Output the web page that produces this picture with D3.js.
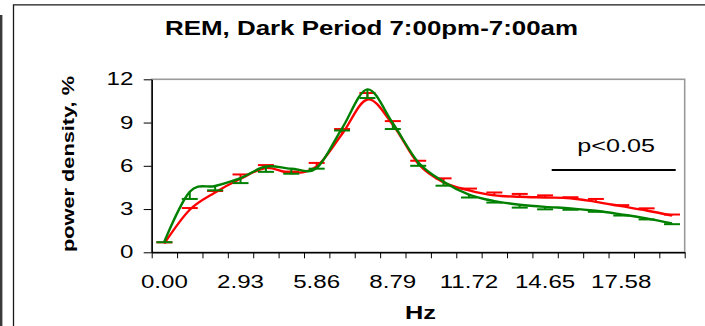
<!DOCTYPE html>
<html>
<head>
<meta charset="utf-8">
<script src="https://cdn.jsdelivr.net/npm/d3@7"></script>
<style>
  html, body { margin: 0; padding: 0; background: #fff; }
  svg { display: block; }
  text { font-family: "Liberation Sans", Arial, sans-serif; fill: #000; }
</style>
</head>
<body>
<svg id="chart" width="705" height="326"></svg>
<script>
// ---------------- data ----------------
const categories = ["0.00","0.98","1.95","2.93","3.91","4.88","5.86","6.84","7.81","8.79","9.77",
  "10.74","11.72","12.70","13.67","14.65","15.63","16.60","17.58","18.55","19.53"];
const shownLabels = ["0.00","2.93","5.86","8.79","11.72","14.65","17.58"];
const yTicks = [0, 3, 6, 9, 12];

const redMean   = [0.62, 2.95, 4.15, 5.10, 5.85, 5.50, 5.95, 8.20, 10.60, 8.85, 6.15, 4.85, 4.30, 3.95, 3.85, 3.80, 3.75, 3.50, 3.20, 2.90, 2.55];
const redErr    = [0.07, 0.12, 0.10, 0.30, 0.20, 0.10, 0.25, 0.35, 0.45, 0.25, 0.20, 0.28, 0.12, 0.20, 0.20, 0.15, 0.07, 0.20, 0.07, 0.15, 0.07];
const greenMean = [0.75, 4.20, 4.60, 5.15, 5.95, 5.80, 5.85, 8.60, 11.30, 8.95, 6.25, 4.90, 4.00, 3.55, 3.30, 3.15, 3.05, 2.88, 2.63, 2.35, 2.00];
const greenErr  = [0.05, 0.50, 0.30, 0.35, 0.37, 0.35, 0.05, 0.15, 0.60, 0.40, 0.25, 0.28, 0.20, 0.10, 0.20, 0.17, 0.10, 0.07, 0.08, 0.07, 0.05];

const titleText = "REM, Dark Period 7:00pm-7:00am";
const xTitle = "Hz";
const yTitle = "power density, %";
const noteText = "p<0.05";

// ---------------- layout ----------------
const svg = d3.select("#chart");
const L = 151.7, R = 684.7, T = 79.3, B = 252.3;
const SX = 1.37; // horizontal text stretch of reference

const x = d3.scaleBand().domain(categories).range([L, R]).paddingInner(0).paddingOuter(0);
const xEdge = d3.scaleLinear().domain([0, categories.length]).range([L, R]);
const y = d3.scaleLinear().domain([0, 12]).range([B, T]);
const cx = c => x(c) + x.bandwidth() / 2;

// outer frame
svg.append("rect").attr("x", 0).attr("y", 15).attr("width", 2.4).attr("height", 326).attr("fill", "#3a3a3a");
svg.append("path").attr("d", "M13.5,326 V4.8 H705").attr("fill", "none").attr("stroke", "#1a1a1a").attr("stroke-width", 1.3);

// plot area border (gray)
svg.append("rect").attr("x", L).attr("y", T).attr("width", R - L).attr("height", B - T)
  .attr("fill", "none").attr("stroke", "#9a9a9a").attr("stroke-width", 1.6);

// x tick marks
const xTickAxis = d3.axisBottom(xEdge).tickValues(d3.range(0, categories.length + 1)).tickFormat("")
  .tickSizeInner(6).tickSizeOuter(0);
const gxt = svg.append("g").attr("transform", `translate(0,${B})`).call(xTickAxis);
gxt.select(".domain").attr("stroke", "#000").attr("stroke-width", 1.5);
gxt.selectAll(".tick line").attr("stroke", "#000").attr("stroke-width", 1);

// x labels
const xLabAxis = d3.axisBottom(x).tickValues(shownLabels).tickSize(0);
const gxl = svg.append("g").attr("transform", `translate(0,${B})`).call(xLabAxis);
gxl.select(".domain").remove();
gxl.selectAll(".tick text").attr("y", 23.2).attr("dy", "0.71em")
  .style("font-size", "17.6px").attr("transform", `scale(${SX},1)`);

// y axis
const yAxis = d3.axisLeft(y).tickValues(yTicks).tickSizeInner(8).tickSizeOuter(0);
const gy = svg.append("g").attr("transform", `translate(${L},0)`).call(yAxis);
gy.select(".domain").attr("stroke", "#000").attr("stroke-width", 1.5);
gy.selectAll(".tick line").attr("stroke", "#000").attr("stroke-width", 1);
gy.selectAll(".tick text").attr("x", 0)
  .style("font-size", "17.6px").attr("transform", `translate(-18.4,0) scale(${SX},1)`);

// series
function drawSeries(mean, err, dir, color) {
  const pts = categories.map((c, i) => [cx(c), y(mean[i])]);
  const line = d3.line().curve(d3.curveCatmullRom.alpha(0));
  svg.append("path").attr("d", line(pts)).attr("fill", "none")
    .attr("stroke", color).attr("stroke-width", 2.4).attr("stroke-linejoin", "round");
  const g = svg.append("g").attr("stroke", color).attr("stroke-width", 2);
  categories.forEach((c, i) => {
    const xc = cx(c), y0 = y(mean[i]), y1 = y(mean[i] + dir * err[i]);
    g.append("line").attr("x1", xc).attr("x2", xc).attr("y1", y0).attr("y2", y1);
    g.append("line").attr("x1", xc - 8).attr("x2", xc + 8).attr("y1", y1).attr("y2", y1);
  });
}
drawSeries(redMean, redErr, +1, "#ff0000");
drawSeries(greenMean, greenErr, -1, "#008000");

// titles
svg.append("text").attr("x", 165).attr("y", 35.3).attr("textLength", 413).attr("lengthAdjust", "spacingAndGlyphs")
  .style("font-size", "19.5px").style("font-weight", "bold").text(titleText);

svg.append("text").attr("x", 405).attr("y", 319).attr("textLength", 31).attr("lengthAdjust", "spacingAndGlyphs")
  .style("font-size", "19px").style("font-weight", "bold").text(xTitle);

svg.append("text").attr("transform", "translate(74,164) rotate(-90)").attr("text-anchor", "middle")
  .attr("textLength", 176).attr("lengthAdjust", "spacingAndGlyphs")
  .style("font-size", "16.5px").style("font-weight", "bold").text(yTitle);

// significance note
svg.append("text").attr("x", 577.3).attr("y", 152.3).attr("textLength", 77.7).attr("lengthAdjust", "spacingAndGlyphs")
  .style("font-size", "19px").text(noteText);
svg.append("line").attr("x1", 551.7).attr("x2", 675.7).attr("y1", 170).attr("y2", 170)
  .attr("stroke", "#000").attr("stroke-width", 2);
</script>
</body>
</html>
